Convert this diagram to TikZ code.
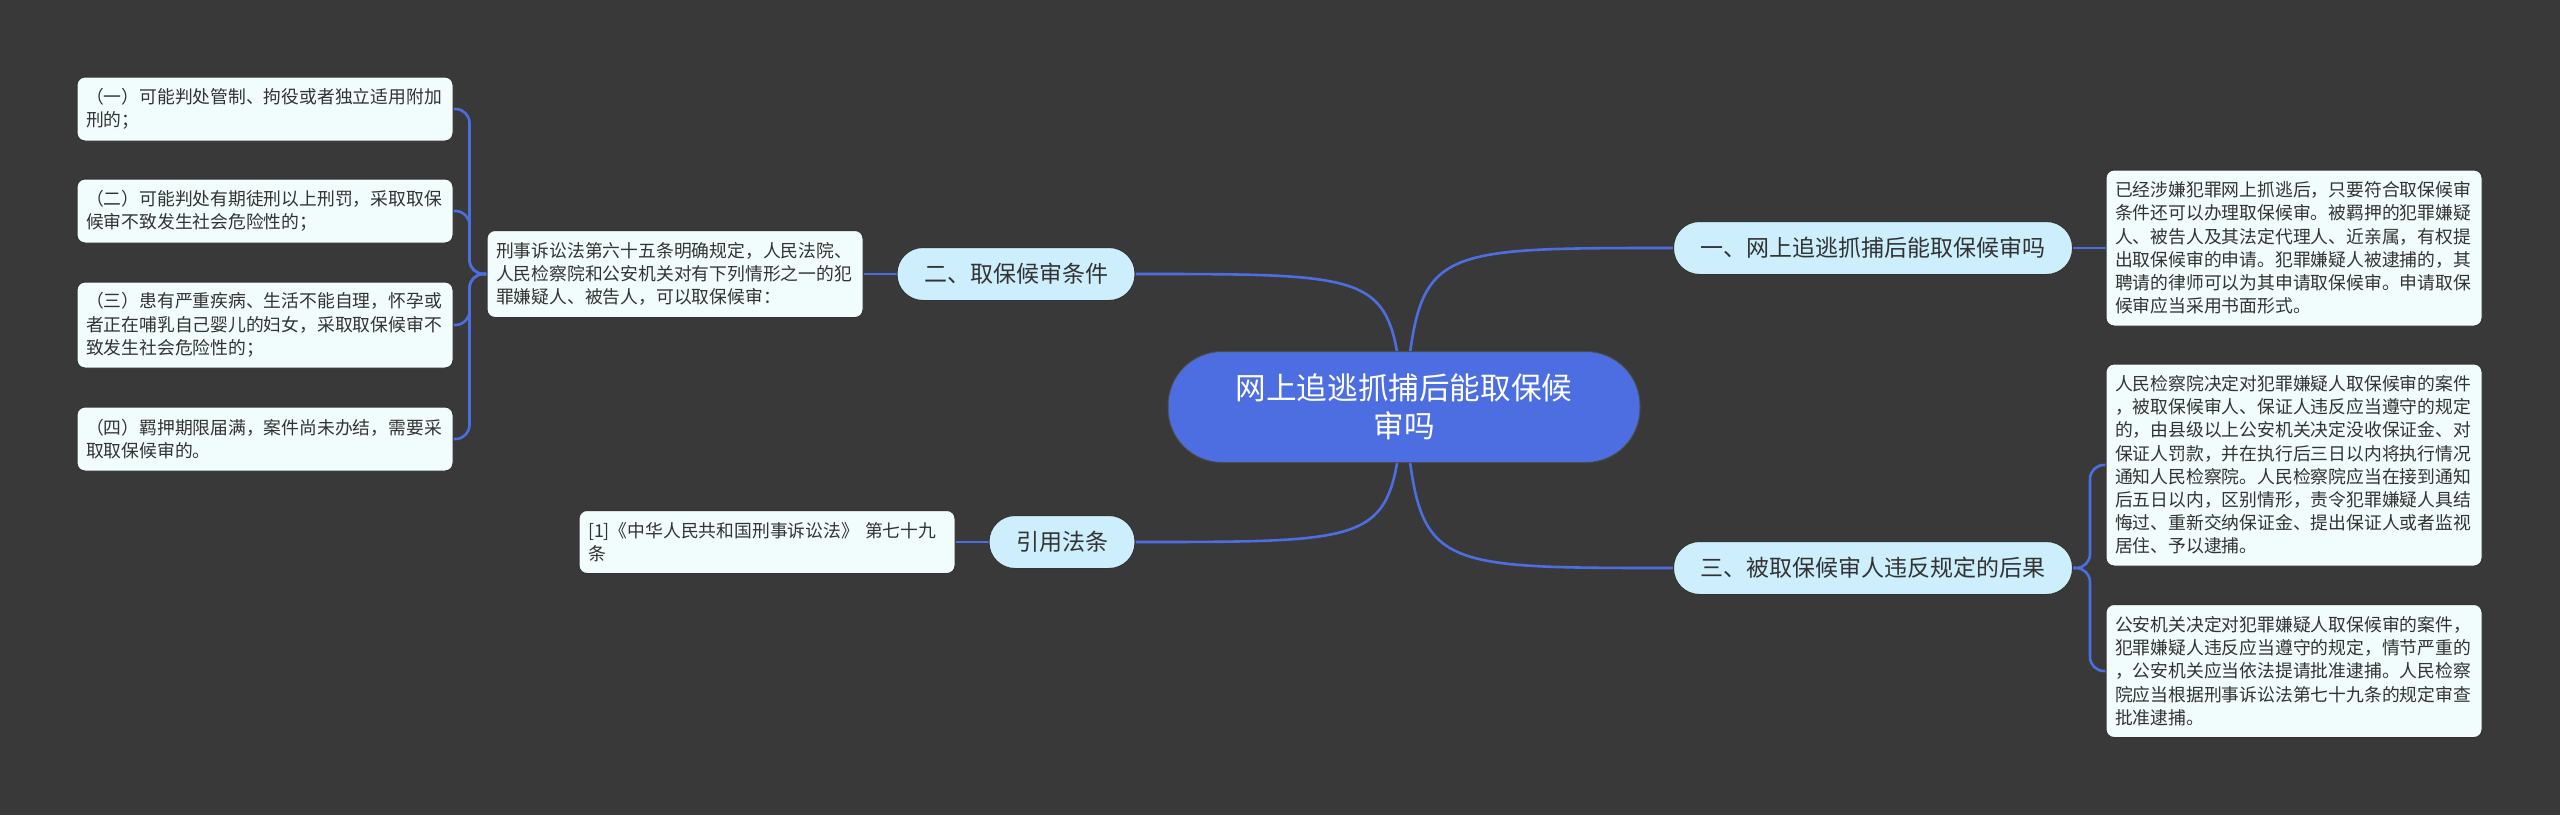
\documentclass[tikz,border=0pt]{standalone}
\usepackage{fontspec}
\newfontfamily\cjk{Noto Sans CJK SC}
\usetikzlibrary{backgrounds}
\definecolor{bgdark}{HTML}{3A3939}
\definecolor{rootblue}{HTML}{4C6EE0}
\definecolor{branchfill}{HTML}{CCEEFD}
\definecolor{leaffill}{HTML}{F1FCFC}
\definecolor{inkgray}{HTML}{333333}

\begin{document}
\begin{tikzpicture}[x=0.5pt,y=-0.5pt,
  every node/.style={font=\cjk, text=inkgray},
  root/.style={fill=rootblue, draw=black!70, line width=0.5pt, rounded corners=27pt, minimum width=236pt, minimum height=55.5pt, align=center, text=white, font=\cjk\fontsize{15.3pt}{19pt}\selectfont},
  branch/.style={fill=branchfill, draw=black!80, line width=0.5pt, rounded corners=13pt, minimum height=26.5pt, inner xsep=13.5pt, font=\cjk\fontsize{11.5pt}{14pt}\selectfont},
  leaf/.style={fill=leaffill, draw=black!80, line width=0.5pt, rounded corners=4pt, text width=179pt, inner xsep=4.5pt, align=left, font=\cjk\fontsize{8.9pt}{11.6pt}\selectfont},
  link/.style={draw=rootblue, line width=1.3pt}]
\useasboundingbox (0,0) rectangle (2560,815);

% centre
\node[root] (root) at (1404,407) {网上追逃抓捕后能取保候\\审吗};

% right side
\node[branch] (b1) at (1873,248) {一、网上追逃抓捕后能取保候审吗};
\node[branch] (b3) at (1873,568) {三、被取保候审人违反规定的后果};
\node[leaf, minimum height=78pt] (r1) at (2294,248) {已经涉嫌犯罪网上抓逃后，只要符合取保候审\\条件还可以办理取保候审。被羁押的犯罪嫌疑\\人、被告人及其法定代理人、近亲属，有权提\\出取保候审的申请。犯罪嫌疑人被逮捕的，其\\聘请的律师可以为其申请取保候审。申请取保\\候审应当采用书面形式。};
\node[leaf, minimum height=101pt] (r2) at (2294,465) {人民检察院决定对犯罪嫌疑人取保候审的案件\\，被取保候审人、保证人违反应当遵守的规定\\的，由县级以上公安机关决定没收保证金、对\\保证人罚款，并在执行后三日以内将执行情况\\通知人民检察院。人民检察院应当在接到通知\\后五日以内，区别情形，责令犯罪嫌疑人具结\\悔过、重新交纳保证金、提出保证人或者监视\\居住、予以逮捕。};
\node[leaf, minimum height=66.5pt] (r3) at (2294,671) {公安机关决定对犯罪嫌疑人取保候审的案件，\\犯罪嫌疑人违反应当遵守的规定，情节严重的\\，公安机关应当依法提请批准逮捕。人民检察\\院应当根据刑事诉讼法第七十九条的规定审查\\批准逮捕。};

% left side
\node[branch] (b2) at (1016,274) {二、取保候审条件};
\node[branch] (b4) at (1062,542) {引用法条};
\node[leaf, minimum height=43.5pt] (t2) at (675,274) {刑事诉讼法第六十五条明确规定，人民法院、\\人民检察院和公安机关对有下列情形之一的犯\\罪嫌疑人、被告人，可以取保候审：};
\node[leaf, minimum height=31.5pt] (t4) at (767,542) {[1]《中华人民共和国刑事诉讼法》 第七十九\\条};
\node[leaf, minimum height=32pt] (lb1) at (265,109) {（一）可能判处管制、拘役或者独立适用附加\\刑的；};
\node[leaf, minimum height=32pt] (lb2) at (265,211) {（二）可能判处有期徒刑以上刑罚，采取取保\\候审不致发生社会危险性的；};
\node[leaf, minimum height=43pt] (lb3) at (265,325) {（三）患有严重疾病、生活不能自理，怀孕或\\者正在哺乳自己婴儿的妇女，采取取保候审不\\致发生社会危险性的；};
\node[leaf, minimum height=32pt] (lb4) at (265,439) {（四）羁押期限届满，案件尚未办结，需要采\\取取保候审的。};

\begin{scope}[on background layer]
\fill[bgdark] (0,0) rectangle (2560,815);
\draw[link] (root.center) .. controls (1420,248) .. (b1.west);
\draw[link] (root.center) .. controls (1420,568) .. (b3.west);
\draw[link] (root.center) .. controls (1390,274) .. (b2.east);
\draw[link] (root.center) .. controls (1390,542) .. (b4.east);
\draw[link] (b1.east) -- (r1.west);
\draw[link, rounded corners=7pt] (b3.east) -- ++(17,0) |- (r2.west);
\draw[link, rounded corners=7pt] (b3.east) -- ++(17,0) |- (r3.west);
\draw[link] (b2.west) -- (t2.east);
\draw[link] (b4.west) -- (t4.east);
\foreach \k in {lb1,lb2,lb3,lb4}
  \draw[link, rounded corners=7pt] (t2.west) -- ++(-17,0) |- (\k.east);
\end{scope}
\end{tikzpicture}
\end{document}
